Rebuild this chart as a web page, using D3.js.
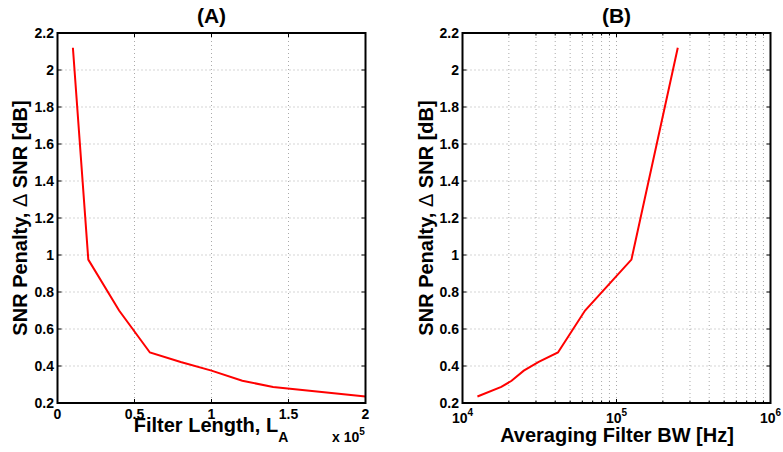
<!DOCTYPE html>
<html>
<head>
<meta charset="utf-8">
<script src="https://cdn.jsdelivr.net/npm/d3@7"></script>
<style>
  html, body { margin: 0; padding: 0; background: #fff; }
  svg { display: block; }
  text { font-family: "Liberation Sans", Arial, Helvetica, sans-serif; font-weight: bold; fill: #000; }
</style>
</head>
<body>
<svg id="chart" width="783" height="452"></svg>
<script>
// ---- data ----
const filterLength = [10000, 20000, 40000, 60000, 80000, 100000, 120000, 140000, 200000];
const filterBW = [250000, 125000, 62500, 41667, 31250, 25000, 20833, 17857, 12500];
const snrPenalty = [2.12, 0.975, 0.70, 0.473, 0.422, 0.375, 0.32, 0.287, 0.235];

const yTicks = [0.2, 0.4, 0.6, 0.8, 1.0, 1.2, 1.4, 1.6, 1.8, 2.0, 2.2];
const yTickLabels = ["0.2", "0.4", "0.6", "0.8", "1", "1.2", "1.4", "1.6", "1.8", "2", "2.2"];
const xTicksA = [0, 50000, 100000, 150000, 200000];
const xTickLabelsA = ["0", "0.5", "1", "1.5", "2"];
const xTicksB = [1e4, 1e5, 1e6];
const xTickExpB = ["4", "5", "6"];
const xMinorB = [2e4, 3e4, 4e4, 5e4, 6e4, 7e4, 8e4, 9e4, 2e5, 3e5, 4e5, 5e5, 6e5, 7e5, 8e5, 9e5];

const titles = ["(A)", "(B)"];
const yLabel = ["SNR Penalty, ", "Δ", " SNR [dB]"];

// ---- drawing ----
const svg = d3.select("#chart");
svg.append("rect").attr("width", 783).attr("height", 452).attr("fill", "#fff");

const yTop = 33, yBottom = 403;
const y = d3.scaleLinear().domain([0.2, 2.2]).range([yBottom, yTop]);

const panels = [
  { x0: 57.5, x1: 365.5 },
  { x0: 462.5, x1: 770.5 }
];
const xA = d3.scaleLinear().domain([0, 200000]).range([panels[0].x0, panels[0].x1]);
const xB = d3.scaleLog().domain([1e4, 1e6]).range([panels[1].x0, panels[1].x1]);

const gridStyle = g => g.attr("stroke", "#aaaaaa").attr("stroke-width", 1).attr("stroke-dasharray", "1,3");

function drawFrame(xs, x0, x1, majorX, minorX) {
  const g = svg.append("g");
  const grid = g.append("g").call(gridStyle);
  yTicks.slice(1, -1).forEach(v => {
    grid.append("line").attr("x1", x0).attr("x2", x1).attr("y1", y(v)).attr("y2", y(v));
  });
  majorX.concat(minorX).forEach(v => {
    const px = xs(v);
    if (px <= x0 + 1 || px >= x1 - 1) return;
    grid.append("line").attr("x1", px).attr("x2", px).attr("y1", yTop).attr("y2", yBottom);
  });
  return g;
}

function drawBoxAndTicks(xs, x0, x1, majorX, minorX) {
  const g = svg.append("g").attr("stroke", "#000");
  const tk = 4, mtk = 2.5;
  yTicks.forEach(v => {
    g.append("line").attr("x1", x0).attr("x2", x0 + tk).attr("y1", y(v)).attr("y2", y(v)).attr("stroke-width", 1);
    g.append("line").attr("x1", x1).attr("x2", x1 - tk).attr("y1", y(v)).attr("y2", y(v)).attr("stroke-width", 1);
  });
  majorX.forEach(v => {
    const px = xs(v);
    g.append("line").attr("x1", px).attr("x2", px).attr("y1", yBottom).attr("y2", yBottom - tk).attr("stroke-width", 1);
    g.append("line").attr("x1", px).attr("x2", px).attr("y1", yTop).attr("y2", yTop + tk).attr("stroke-width", 1);
  });
  minorX.forEach(v => {
    const px = xs(v);
    g.append("line").attr("x1", px).attr("x2", px).attr("y1", yBottom).attr("y2", yBottom - mtk).attr("stroke-width", 1);
    g.append("line").attr("x1", px).attr("x2", px).attr("y1", yTop).attr("y2", yTop + mtk).attr("stroke-width", 1);
  });
  g.append("rect").attr("x", x0).attr("y", yTop).attr("width", x1 - x0).attr("height", yBottom - yTop)
    .attr("fill", "none").attr("stroke-width", 2);
}

function yTickText(x0) {
  yTicks.forEach((v, i) => {
    svg.append("text").attr("x", x0 - 3.5).attr("y", y(v) + 5).attr("text-anchor", "end")
      .attr("font-size", 14).text(yTickLabels[i]);
  });
}

function yLabelText(xb) {
  const t = svg.append("text").attr("transform", `translate(${xb},218) rotate(-90)`)
    .attr("text-anchor", "middle").attr("font-size", 20);
  t.append("tspan").text(yLabel[0]);
  t.append("tspan").attr("font-weight", "normal").text(yLabel[1]);
  t.append("tspan").text(yLabel[2]);
}

const line = xs => d3.line().x(d => xs(d[0])).y(d => y(d[1]));

// Panel A
drawFrame(xA, panels[0].x0, panels[0].x1, xTicksA, []);
svg.append("path").datum(filterLength.map((v, i) => [v, snrPenalty[i]]))
  .attr("d", line(xA)).attr("fill", "none").attr("stroke", "#ff0000").attr("stroke-width", 2);
drawBoxAndTicks(xA, panels[0].x0, panels[0].x1, xTicksA, []);
yTickText(panels[0].x0);
xTicksA.forEach((v, i) => {
  svg.append("text").attr("x", xA(v)).attr("y", 419).attr("text-anchor", "middle")
    .attr("font-size", 14).text(xTickLabelsA[i]);
});
svg.append("text").attr("x", (panels[0].x0 + panels[0].x1) / 2).attr("y", 22.5)
  .attr("text-anchor", "middle").attr("font-size", 21).text(titles[0]);
yLabelText(27);
{
  const t = svg.append("text").attr("x", 211).attr("y", 432).attr("text-anchor", "middle").attr("font-size", 20);
  t.append("tspan").text("Filter Length, L");
  t.append("tspan").attr("font-size", 14).attr("dy", 9.5).text("A");
}
{
  const t = svg.append("text").attr("x", 332).attr("y", 441.5).attr("font-size", 14);
  t.append("tspan").text("x 10");
  t.append("tspan").attr("font-size", 10).attr("dy", -7).text("5");
}

// Panel B
drawFrame(xB, panels[1].x0, panels[1].x1, xTicksB, xMinorB);
svg.append("path").datum(filterBW.map((v, i) => [v, snrPenalty[i]]))
  .attr("d", line(xB)).attr("fill", "none").attr("stroke", "#ff0000").attr("stroke-width", 2);
drawBoxAndTicks(xB, panels[1].x0, panels[1].x1, xTicksB, xMinorB);
yTickText(panels[1].x0);
xTicksB.forEach((v, i) => {
  const t = svg.append("text").attr("x", xB(v)).attr("y", 423).attr("text-anchor", "middle").attr("font-size", 14);
  t.append("tspan").text("10");
  t.append("tspan").attr("font-size", 10).attr("dy", -7).text(xTickExpB[i]);
});
svg.append("text").attr("x", (panels[1].x0 + panels[1].x1) / 2).attr("y", 22.5)
  .attr("text-anchor", "middle").attr("font-size", 21).text(titles[1]);
yLabelText(433);
svg.append("text").attr("x", 617).attr("y", 442).attr("text-anchor", "middle").attr("font-size", 20)
  .text("Averaging Filter BW [Hz]");
</script>
</body>
</html>
